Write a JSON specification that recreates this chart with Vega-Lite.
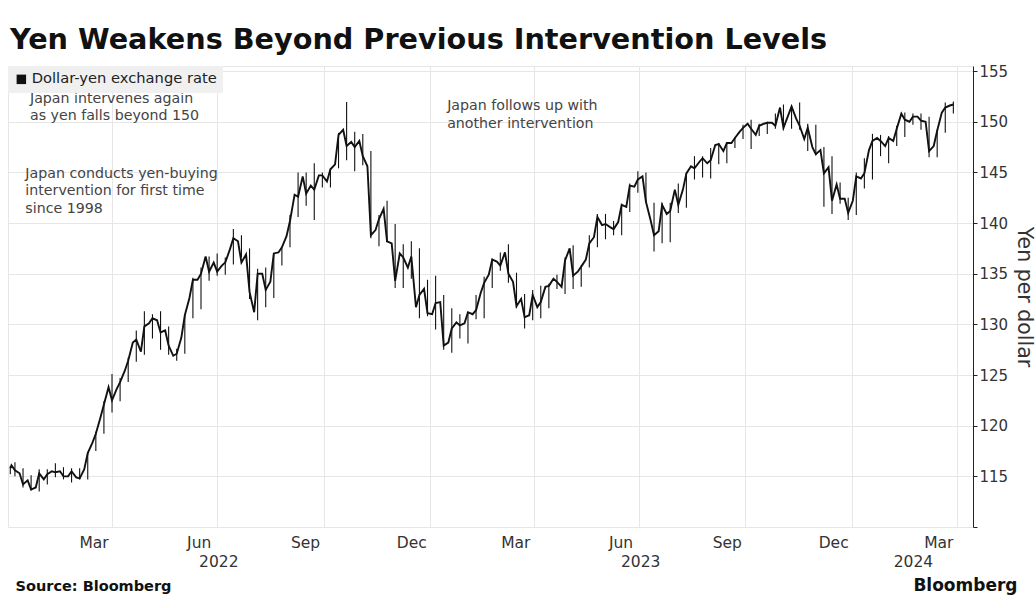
{
  "$schema": "https://vega.github.io/schema/vega-lite/v6.json",
  "width": 965,
  "height": 461,
  "autosize": {"type": "none"},
  "padding": {"left": 8, "top": 66, "right": 63, "bottom": 81},
  "background": "white",
  "config": {"font": "DejaVu Sans", "view": {"stroke": "#e6e6e6"}},
  "title": {"text": "Yen Weakens Beyond Previous Intervention Levels", "anchor": "start", "frame": "group", "fontSize": 28.7, "fontWeight": "bold", "color": "#111", "baseline": "alphabetic", "offset": 14, "dx": 2, "dy": 28, "font": "DejaVu Sans"},
  "datasets": {
    "w": [
      {"d": "2022-01-03", "lo": 115.2, "hi": 116.0, "c": 115.8},
      {"d": "2022-01-04", "c": 116.1},
      {"d": "2022-01-07", "lo": 115.0, "hi": 116.4, "c": 115.6},
      {"d": "2022-01-11", "c": 115.3},
      {"d": "2022-01-14", "lo": 113.9, "hi": 115.8, "c": 114.2},
      {"d": "2022-01-18", "c": 114.6},
      {"d": "2022-01-21", "lo": 113.6, "hi": 115.1, "c": 113.7},
      {"d": "2022-01-25", "c": 113.9},
      {"d": "2022-01-28", "lo": 113.5, "hi": 115.7, "c": 115.3},
      {"d": "2022-02-01", "c": 114.7},
      {"d": "2022-02-04", "lo": 114.2, "hi": 115.7, "c": 115.2},
      {"d": "2022-02-08", "c": 115.5},
      {"d": "2022-02-11", "lo": 114.9, "hi": 116.3, "c": 115.4},
      {"d": "2022-02-15", "c": 115.5},
      {"d": "2022-02-18", "lo": 114.7, "hi": 115.9, "c": 115.0},
      {"d": "2022-02-22", "c": 115.0},
      {"d": "2022-02-25", "lo": 114.4, "hi": 115.8, "c": 115.5},
      {"d": "2022-03-01", "c": 114.9},
      {"d": "2022-03-04", "lo": 114.7, "hi": 115.8, "c": 114.8},
      {"d": "2022-03-08", "c": 115.7},
      {"d": "2022-03-11", "lo": 114.7, "hi": 117.4, "c": 117.3},
      {"d": "2022-03-15", "c": 118.3},
      {"d": "2022-03-18", "lo": 117.5, "hi": 119.4, "c": 119.2},
      {"d": "2022-03-22", "c": 120.8},
      {"d": "2022-03-25", "lo": 119.2, "hi": 122.4, "c": 122.1},
      {"d": "2022-03-29", "c": 123.8},
      {"d": "2022-04-01", "lo": 121.3, "hi": 125.1, "c": 122.5},
      {"d": "2022-04-05", "c": 123.6},
      {"d": "2022-04-08", "lo": 122.4, "hi": 124.7, "c": 124.3},
      {"d": "2022-04-12", "c": 125.4},
      {"d": "2022-04-15", "lo": 124.3, "hi": 126.7, "c": 126.4},
      {"d": "2022-04-19", "c": 128.2},
      {"d": "2022-04-22", "lo": 126.3, "hi": 129.4, "c": 128.5},
      {"d": "2022-04-26", "c": 127.3},
      {"d": "2022-04-29", "lo": 127.0, "hi": 131.3, "c": 129.8},
      {"d": "2022-05-03", "c": 130.1},
      {"d": "2022-05-06", "lo": 128.6, "hi": 131.0, "c": 130.6},
      {"d": "2022-05-10", "c": 130.4},
      {"d": "2022-05-13", "lo": 127.5, "hi": 131.3, "c": 129.2},
      {"d": "2022-05-17", "c": 129.4},
      {"d": "2022-05-20", "lo": 127.0, "hi": 129.8, "c": 127.9},
      {"d": "2022-05-24", "c": 126.9},
      {"d": "2022-05-27", "lo": 126.4, "hi": 127.6, "c": 127.1},
      {"d": "2022-05-31", "c": 128.7},
      {"d": "2022-06-03", "lo": 127.1, "hi": 131.0, "c": 130.9},
      {"d": "2022-06-07", "c": 132.6},
      {"d": "2022-06-10", "lo": 130.6, "hi": 134.6, "c": 134.4},
      {"d": "2022-06-14", "c": 134.4},
      {"d": "2022-06-17", "lo": 131.5, "hi": 135.6, "c": 135.0},
      {"d": "2022-06-21", "c": 136.7},
      {"d": "2022-06-24", "lo": 134.3, "hi": 136.7, "c": 135.2},
      {"d": "2022-06-28", "c": 136.1},
      {"d": "2022-07-01", "lo": 134.8, "hi": 137.0, "c": 135.2},
      {"d": "2022-07-05", "c": 135.8},
      {"d": "2022-07-08", "lo": 134.9, "hi": 136.6, "c": 136.1},
      {"d": "2022-07-12", "c": 137.4},
      {"d": "2022-07-15", "lo": 135.9, "hi": 139.4, "c": 138.5},
      {"d": "2022-07-19", "c": 138.2},
      {"d": "2022-07-22", "lo": 136.6, "hi": 138.8, "c": 136.1},
      {"d": "2022-07-26", "c": 136.9},
      {"d": "2022-07-29", "lo": 132.5, "hi": 137.5, "c": 133.2},
      {"d": "2022-08-02", "c": 131.2},
      {"d": "2022-08-05", "lo": 130.4, "hi": 135.5, "c": 135.0},
      {"d": "2022-08-09", "c": 135.0},
      {"d": "2022-08-12", "lo": 131.7, "hi": 135.6, "c": 133.4},
      {"d": "2022-08-16", "c": 134.2},
      {"d": "2022-08-19", "lo": 132.6, "hi": 137.0, "c": 137.0},
      {"d": "2022-08-23", "c": 137.1},
      {"d": "2022-08-26", "lo": 135.8, "hi": 137.6, "c": 137.6},
      {"d": "2022-08-30", "c": 138.7},
      {"d": "2022-09-02", "lo": 137.6, "hi": 140.8, "c": 140.2},
      {"d": "2022-09-06", "c": 142.8},
      {"d": "2022-09-09", "lo": 140.6, "hi": 145.0, "c": 142.6},
      {"d": "2022-09-13", "c": 144.6},
      {"d": "2022-09-16", "lo": 141.7, "hi": 145.0, "c": 142.9},
      {"d": "2022-09-20", "c": 143.7},
      {"d": "2022-09-23", "lo": 140.3, "hi": 145.9, "c": 143.3},
      {"d": "2022-09-27", "c": 144.7},
      {"d": "2022-09-30", "lo": 143.5, "hi": 145.0, "c": 144.7},
      {"d": "2022-10-04", "c": 144.1},
      {"d": "2022-10-07", "lo": 143.5, "hi": 145.4, "c": 145.3},
      {"d": "2022-10-11", "c": 145.8},
      {"d": "2022-10-14", "lo": 145.4, "hi": 148.9, "c": 148.7},
      {"d": "2022-10-18", "c": 149.2},
      {"d": "2022-10-21", "lo": 146.2, "hi": 151.95, "c": 147.6},
      {"d": "2022-10-25", "c": 148.0},
      {"d": "2022-10-28", "lo": 145.1, "hi": 149.0, "c": 147.5},
      {"d": "2022-11-01", "c": 148.1},
      {"d": "2022-11-04", "lo": 145.7, "hi": 148.8, "c": 146.6},
      {"d": "2022-11-08", "c": 145.6},
      {"d": "2022-11-11", "lo": 138.5, "hi": 147.1, "c": 138.8},
      {"d": "2022-11-15", "c": 139.3},
      {"d": "2022-11-18", "lo": 137.7, "hi": 140.8, "c": 140.4},
      {"d": "2022-11-22", "c": 141.4},
      {"d": "2022-11-25", "lo": 138.1, "hi": 142.2, "c": 138.2},
      {"d": "2022-11-29", "c": 138.0},
      {"d": "2022-12-02", "lo": 133.6, "hi": 139.9, "c": 134.3},
      {"d": "2022-12-06", "c": 137.0},
      {"d": "2022-12-09", "lo": 133.6, "hi": 137.9, "c": 136.6},
      {"d": "2022-12-13", "c": 135.6},
      {"d": "2022-12-16", "lo": 134.5, "hi": 138.2, "c": 136.7},
      {"d": "2022-12-20", "c": 131.7},
      {"d": "2022-12-23", "lo": 130.6, "hi": 137.5, "c": 132.9},
      {"d": "2022-12-27", "c": 133.5},
      {"d": "2022-12-30", "lo": 130.8, "hi": 134.4, "c": 131.1},
      {"d": "2023-01-03", "c": 131.0},
      {"d": "2023-01-06", "lo": 129.5, "hi": 134.8, "c": 132.1},
      {"d": "2023-01-10", "c": 132.2},
      {"d": "2023-01-13", "lo": 127.5, "hi": 132.9, "c": 127.9},
      {"d": "2023-01-17", "c": 128.2},
      {"d": "2023-01-20", "lo": 127.2, "hi": 131.6, "c": 129.6},
      {"d": "2023-01-24", "c": 130.2},
      {"d": "2023-01-27", "lo": 128.6, "hi": 131.0, "c": 129.9},
      {"d": "2023-01-31", "c": 130.1},
      {"d": "2023-02-03", "lo": 128.1, "hi": 131.2, "c": 131.2},
      {"d": "2023-02-07", "c": 131.0},
      {"d": "2023-02-10", "lo": 130.5, "hi": 132.9, "c": 131.4},
      {"d": "2023-02-14", "c": 133.1},
      {"d": "2023-02-17", "lo": 130.6, "hi": 134.7, "c": 134.1},
      {"d": "2023-02-21", "c": 134.9},
      {"d": "2023-02-24", "lo": 133.6, "hi": 136.5, "c": 136.4},
      {"d": "2023-02-28", "c": 136.2},
      {"d": "2023-03-03", "lo": 135.3, "hi": 137.1, "c": 135.8},
      {"d": "2023-03-07", "c": 137.1},
      {"d": "2023-03-10", "lo": 134.1, "hi": 137.9, "c": 135.0},
      {"d": "2023-03-14", "c": 134.2},
      {"d": "2023-03-17", "lo": 131.6, "hi": 135.1, "c": 131.8},
      {"d": "2023-03-21", "c": 132.5},
      {"d": "2023-03-24", "lo": 129.6, "hi": 133.0, "c": 130.7},
      {"d": "2023-03-28", "c": 130.9},
      {"d": "2023-03-31", "lo": 130.4, "hi": 133.4, "c": 132.9},
      {"d": "2023-04-04", "c": 131.7},
      {"d": "2023-04-07", "lo": 130.6, "hi": 133.8, "c": 132.2},
      {"d": "2023-04-11", "c": 133.7},
      {"d": "2023-04-14", "lo": 131.6, "hi": 134.0, "c": 133.8},
      {"d": "2023-04-18", "c": 134.5},
      {"d": "2023-04-21", "lo": 133.5, "hi": 134.9, "c": 134.2},
      {"d": "2023-04-25", "c": 133.7},
      {"d": "2023-04-28", "lo": 133.0, "hi": 136.6, "c": 136.3},
      {"d": "2023-05-02", "c": 137.5},
      {"d": "2023-05-05", "lo": 133.5, "hi": 137.8, "c": 134.8},
      {"d": "2023-05-09", "c": 135.2},
      {"d": "2023-05-12", "lo": 133.7, "hi": 135.8, "c": 135.7},
      {"d": "2023-05-16", "c": 136.4},
      {"d": "2023-05-19", "lo": 135.6, "hi": 138.8, "c": 138.0},
      {"d": "2023-05-23", "c": 138.6},
      {"d": "2023-05-26", "lo": 137.6, "hi": 140.9, "c": 140.6},
      {"d": "2023-05-30", "c": 139.8},
      {"d": "2023-06-02", "lo": 138.4, "hi": 140.9, "c": 139.9},
      {"d": "2023-06-06", "c": 139.6},
      {"d": "2023-06-09", "lo": 138.8, "hi": 140.2, "c": 139.4},
      {"d": "2023-06-13", "c": 140.1},
      {"d": "2023-06-16", "lo": 138.8, "hi": 141.9, "c": 141.8},
      {"d": "2023-06-20", "c": 141.6},
      {"d": "2023-06-23", "lo": 141.1, "hi": 143.9, "c": 143.7},
      {"d": "2023-06-27", "c": 143.6},
      {"d": "2023-06-30", "lo": 143.0, "hi": 145.1, "c": 144.3},
      {"d": "2023-07-04", "c": 144.6},
      {"d": "2023-07-07", "lo": 142.1, "hi": 145.0, "c": 142.1},
      {"d": "2023-07-11", "c": 140.3},
      {"d": "2023-07-14", "lo": 137.2, "hi": 142.0, "c": 138.8},
      {"d": "2023-07-18", "c": 139.2},
      {"d": "2023-07-21", "lo": 138.0, "hi": 142.0, "c": 141.8},
      {"d": "2023-07-25", "c": 140.9},
      {"d": "2023-07-28", "lo": 138.1, "hi": 142.0, "c": 141.2},
      {"d": "2023-08-01", "c": 143.3},
      {"d": "2023-08-04", "lo": 141.0, "hi": 143.9, "c": 141.8},
      {"d": "2023-08-08", "c": 143.3},
      {"d": "2023-08-11", "lo": 141.5, "hi": 145.0, "c": 144.9},
      {"d": "2023-08-15", "c": 145.6},
      {"d": "2023-08-18", "lo": 144.3, "hi": 146.6, "c": 145.4},
      {"d": "2023-08-22", "c": 146.0},
      {"d": "2023-08-25", "lo": 144.5, "hi": 146.6, "c": 146.4},
      {"d": "2023-08-29", "c": 145.9},
      {"d": "2023-09-01", "lo": 144.4, "hi": 147.4, "c": 146.2},
      {"d": "2023-09-05", "c": 147.7},
      {"d": "2023-09-08", "lo": 145.8, "hi": 147.9, "c": 147.8},
      {"d": "2023-09-12", "c": 147.1},
      {"d": "2023-09-15", "lo": 145.9, "hi": 147.9, "c": 147.9},
      {"d": "2023-09-19", "c": 147.9},
      {"d": "2023-09-22", "lo": 147.4, "hi": 148.5, "c": 148.4},
      {"d": "2023-09-26", "c": 149.0},
      {"d": "2023-09-29", "lo": 148.3, "hi": 149.7, "c": 149.4},
      {"d": "2023-10-03", "c": 149.8},
      {"d": "2023-10-06", "lo": 147.3, "hi": 150.2, "c": 149.3},
      {"d": "2023-10-10", "c": 148.7},
      {"d": "2023-10-13", "lo": 148.6, "hi": 149.8, "c": 149.6},
      {"d": "2023-10-17", "c": 149.8},
      {"d": "2023-10-20", "lo": 148.8, "hi": 150.0, "c": 149.9},
      {"d": "2023-10-24", "c": 149.9},
      {"d": "2023-10-27", "lo": 149.3, "hi": 150.8, "c": 149.6},
      {"d": "2023-10-31", "c": 151.4},
      {"d": "2023-11-03", "lo": 149.2, "hi": 151.7, "c": 149.4},
      {"d": "2023-11-07", "c": 150.6},
      {"d": "2023-11-10", "lo": 149.3, "hi": 151.6, "c": 151.5},
      {"d": "2023-11-14", "c": 150.3},
      {"d": "2023-11-17", "lo": 149.2, "hi": 151.9, "c": 149.6},
      {"d": "2023-11-21", "c": 148.3},
      {"d": "2023-11-24", "lo": 147.1, "hi": 149.8, "c": 149.4},
      {"d": "2023-11-28", "c": 147.5},
      {"d": "2023-12-01", "lo": 146.7, "hi": 149.7, "c": 146.8},
      {"d": "2023-12-05", "c": 147.2},
      {"d": "2023-12-08", "lo": 141.6, "hi": 147.5, "c": 144.9},
      {"d": "2023-12-12", "c": 145.5},
      {"d": "2023-12-15", "lo": 140.9, "hi": 146.6, "c": 142.2},
      {"d": "2023-12-19", "c": 143.8},
      {"d": "2023-12-22", "lo": 141.9, "hi": 144.0, "c": 142.4},
      {"d": "2023-12-26", "c": 142.4},
      {"d": "2023-12-29", "lo": 140.3, "hi": 142.5, "c": 141.0},
      {"d": "2024-01-02", "c": 142.2},
      {"d": "2024-01-05", "lo": 140.8, "hi": 145.0, "c": 144.6},
      {"d": "2024-01-09", "c": 144.4},
      {"d": "2024-01-12", "lo": 143.4, "hi": 146.4, "c": 144.9},
      {"d": "2024-01-16", "c": 147.2},
      {"d": "2024-01-19", "lo": 144.3, "hi": 148.8, "c": 148.1},
      {"d": "2024-01-23", "c": 148.4},
      {"d": "2024-01-26", "lo": 146.6, "hi": 148.7, "c": 148.1},
      {"d": "2024-01-30", "c": 147.6},
      {"d": "2024-02-02", "lo": 145.9, "hi": 148.6, "c": 148.4},
      {"d": "2024-02-06", "c": 148.1},
      {"d": "2024-02-09", "lo": 147.6, "hi": 149.6, "c": 149.3},
      {"d": "2024-02-13", "c": 150.8},
      {"d": "2024-02-16", "lo": 148.5, "hi": 150.9, "c": 150.2},
      {"d": "2024-02-20", "c": 150.0},
      {"d": "2024-02-23", "lo": 149.7, "hi": 150.8, "c": 150.5},
      {"d": "2024-02-27", "c": 150.5},
      {"d": "2024-03-01", "lo": 149.2, "hi": 150.8, "c": 150.1},
      {"d": "2024-03-05", "c": 150.0},
      {"d": "2024-03-08", "lo": 146.5, "hi": 150.5, "c": 147.1},
      {"d": "2024-03-12", "c": 147.6},
      {"d": "2024-03-15", "lo": 146.5, "hi": 149.2, "c": 149.1},
      {"d": "2024-03-19", "c": 150.9},
      {"d": "2024-03-22", "lo": 148.9, "hi": 151.9, "c": 151.4},
      {"d": "2024-03-26", "c": 151.6},
      {"d": "2024-03-29", "lo": 150.8, "hi": 152.0, "c": 151.7}
    ],
    "notes": [
      {"d": "2022-01-20", "v": 151.85, "t": ["Japan intervenes again", "as yen falls beyond 150"]},
      {"d": "2022-01-16", "v": 144.45, "t": ["Japan conducts yen-buying", "intervention for first time", "since 1998"]},
      {"d": "2023-01-16", "v": 151.15, "t": ["Japan follows up with", "another intervention"]}
    ]
  },
  "layer": [
    {
      "data": {"name": "w"},
      "mark": {"type": "rule", "color": "#111", "strokeWidth": 1.1},
      "encoding": {
        "x": {"field": "d", "type": "temporal",
          "scale": {"domain": [{"year": 2022, "month": 1, "date": 1}, {"year": 2024, "month": 4, "date": 15}]},
          "axis": {
            "orient": "bottom",
            "values": [
              {"year": 2022, "month": 3, "date": 16}, {"year": 2022, "month": 6, "date": 15}, {"year": 2022, "month": 9, "date": 15}, {"year": 2022, "month": 12, "date": 16},
              {"year": 2023, "month": 3, "date": 16}, {"year": 2023, "month": 6, "date": 15}, {"year": 2023, "month": 9, "date": 15}, {"year": 2023, "month": 12, "date": 16},
              {"year": 2024, "month": 3, "date": 16},
              {"year": 2022, "month": 7, "date": 2}, {"year": 2023, "month": 7, "date": 2}, {"year": 2024, "month": 2, "date": 23}
            ],
            "labelExpr": "(date(datum.value) < 10 || date(datum.value) > 20) ? ['', timeFormat(datum.value, '%Y')] : timeFormat(datum.value, '%b')",
            "grid": false, "ticks": false, "tickSize": 0, "domain": false,
            "labelFontSize": 15.5, "labelColor": "#333", "labelPadding": 8, "labelLineHeight": 19, "labelOverlap": false, "labelFlush": false,
            "title": "Source: Bloomberg", "titleX": 7, "titleY": 63, "titleAlign": "left", "titleAnchor": "start", "titleBaseline": "alphabetic",
            "titleFontSize": 14.5, "titleFontWeight": "bold", "titleColor": "#111"
          }
        },
        "y": {"field": "lo", "type": "quantitative",
          "scale": {"domain": [110, 155.5], "nice": false, "zero": false},
          "axis": {
            "orient": "right",
            "values": [110, 112.5, 115, 117.5, 120, 122.5, 125, 127.5, 130, 132.5, 135, 137.5, 140, 142.5, 145, 147.5, 150, 152.5, 155],
            "labelExpr": "(datum.value % 5 === 0 && datum.value > 110) ? datum.label : ''",
            "grid": true, "gridColor": "#e6e6e6",
            "gridOpacity": {"condition": {"test": "datum.value % 5 === 0", "value": 1}, "value": 0},
            "domainColor": "#222", "tickColor": "#222", "tickSize": 4,
            "labelFontSize": 15, "labelColor": "#333", "labelPadding": 2,
            "title": "Yen per dollar", "titleFontSize": 20.5, "titleFontWeight": "normal", "titleColor": "#333", "titlePadding": 6, "titleAngle": 90
          }
        },
        "y2": {"field": "hi"}
      }
    },
    {
      "data": {"name": "w"},
      "mark": {"type": "line", "strokeWidth": 1.9, "interpolate": "linear"},
      "encoding": {
        "x": {"field": "d", "type": "temporal",
          "axis": {
            "orient": "bottom",
            "values": [
              {"year": 2022, "month": 4, "date": 1}, {"year": 2022, "month": 7, "date": 1}, {"year": 2022, "month": 10, "date": 1},
              {"year": 2023, "month": 1, "date": 1}, {"year": 2023, "month": 4, "date": 1}, {"year": 2023, "month": 7, "date": 1}, {"year": 2023, "month": 10, "date": 1},
              {"year": 2024, "month": 1, "date": 1}, {"year": 2024, "month": 4, "date": 1}
            ],
            "grid": true, "gridColor": "#e6e6e6", "labels": false, "ticks": false, "tickSize": 0, "domain": false,
            "title": "Bloomberg", "titleX": 1009, "titleY": 63, "titleAlign": "right", "titleAnchor": "end", "titleBaseline": "alphabetic",
            "titleFontSize": 17, "titleFontWeight": "bold", "titleColor": "#111"
          }
        },
        "y": {"field": "c", "type": "quantitative"},
        "color": {"datum": "Dollar-yen exchange rate", "type": "nominal",
          "scale": {"range": ["#111111"]},
          "legend": {"orient": "top-left", "offset": 0, "title": null, "fillColor": "#f0f0f0", "padding": 6,
            "symbolType": "square", "symbolSize": 90, "symbolFillColor": "#111", "symbolStrokeWidth": 0,
            "labelFontSize": 14.7, "labelColor": "#222", "labelOffset": 3, "labelLimit": 400}
        }
      }
    },
    {
      "data": {"name": "notes"},
      "mark": {"type": "text", "align": "left", "baseline": "alphabetic", "fontSize": 14.2, "color": "#444", "lineHeight": 17.5},
      "encoding": {
        "x": {"field": "d", "type": "temporal", "axis": null},
        "y": {"field": "v", "type": "quantitative"},
        "text": {"field": "t"}
      }
    }
  ],
  "resolve": {"axis": {"x": "independent"}}
}
